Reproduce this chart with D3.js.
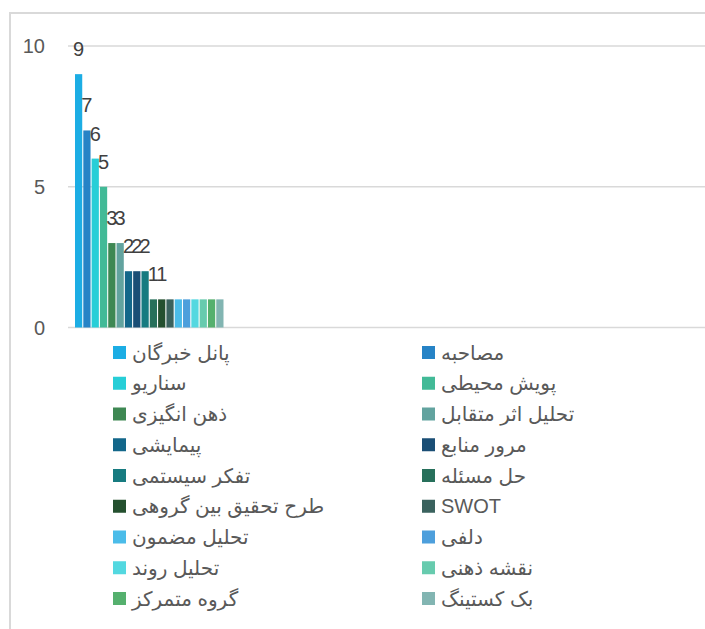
<!DOCTYPE html>
<html lang="fa">
<head>
<meta charset="utf-8">
<title>روش ها</title>
<script src="https://cdn.jsdelivr.net/npm/d3@7"></script>
<style>
  body { margin: 0; background: #fff; }
  svg { display: block; font-family: "Liberation Sans", Arial, "DejaVu Sans", sans-serif; }
  .grid line { stroke: #d9d9d9; stroke-width: 1.5px; }
  .frame { fill: none; stroke: #d9d9d9; stroke-width: 2px; }
  .ytick { fill: #595959; font-size: 20px; }
  .vlabel { fill: #404040; font-size: 20px; }
  .legend text { fill: #595959; font-size: 20px; }
</style>
</head>
<body>
<script>

// series names (one bar per method), in drawing order
var methods = [
  "پانل خبرگان", "مصاحبه", "سناریو", "پویش محیطی", "ذهن انگیزی", "تحلیل اثر متقابل",
  "پیمایشی", "مرور منابع", "تفکر سیستمی", "حل مسئله", "طرح تحقیق بین گروهی", "SWOT",
  "تحلیل مضمون", "دلفی", "تحلیل روند", "نقشه ذهنی", "گروه متمرکز", "بک کستینگ"
];
var counts = [9, 7, 6, 5, 3, 3, 2, 2, 2, 1, 1, 1, 1, 1, 1, 1, 1, 1];
var colors = [
  "#1cade4", "#2683c6", "#27ced7", "#42ba97", "#3e8853", "#62a39f",
  "#13678a", "#1a4e75", "#177b80", "#27705b", "#24502f", "#3a625e",
  "#4bbce9", "#4d9fdc", "#53d8e0", "#67cbae", "#55b06e", "#82b5b2"
];
var yTicks = [0, 5, 10];
// only the first labels are visible in the picture
var shownLabels = 11;

var width = 705, height = 629;

var svg = d3.select("body")
  .append("svg")
  .attr("width", width)
  .attr("height", height);

// outer frame, cut off on the right and bottom
svg.append("rect")
  .attr("class", "frame")
  .attr("x", 10).attr("y", 13)
  .attr("width", 760).attr("height", 700);

var y = d3.scaleLinear().domain([0, 10]).range([327.5, 46]);

var x = d3.scaleBand()
  .domain(methods)
  .range([75, 223.5])
  .paddingInner(0.13);

var color = d3.scaleOrdinal().domain(methods).range(colors);

// gridlines
svg.append("g").attr("class", "grid")
  .selectAll("line")
  .data(yTicks)
  .enter().append("line")
  .attr("x1", 68).attr("x2", width)
  .attr("y1", function(d){ return y(d); })
  .attr("y2", function(d){ return y(d); });

svg.append("g")
  .selectAll("text")
  .data(yTicks)
  .enter().append("text")
  .attr("class", "ytick")
  .attr("x", 45)
  .attr("y", function(d){ return y(d); })
  .attr("dy", "0.35em")
  .attr("text-anchor", "end")
  .text(function(d){ return d; });

// bars
svg.append("g")
  .selectAll("rect")
  .data(methods)
  .enter().append("rect")
  .attr("x", function(d){ return x(d); })
  .attr("width", x.bandwidth())
  .attr("y", function(d, i){ return y(counts[i]); })
  .attr("height", function(d, i){ return y(0) - y(counts[i]); })
  .attr("fill", function(d){ return color(d); });

// value labels
svg.append("g")
  .selectAll("text")
  .data(methods.slice(0, shownLabels))
  .enter().append("text")
  .attr("class", "vlabel")
  .attr("x", function(d){ return x(d) + x.bandwidth() / 2; })
  .attr("y", function(d, i){ return y(counts[i]) - 18; })
  .attr("text-anchor", "middle")
  .text(function(d, i){ return counts[i]; });

// legend, two columns, row-major
var legend = svg.append("g").attr("class", "legend")
  .selectAll("g")
  .data(methods)
  .enter().append("g")
  .attr("transform", function(d, i){
    var col = i % 2, row = Math.floor(i / 2);
    return "translate(" + (col ? 422 : 113) + "," + (352.5 + row * 30.75) + ")";
  });

legend.append("rect")
  .attr("x", 0).attr("y", -6.5)
  .attr("width", 13).attr("height", 13)
  .attr("fill", function(d){ return color(d); });

legend.append("text")
  .attr("x", 19)
  .attr("dy", "0.35em")
  .text(function(d){ return d; });

</script>
</body>
</html>
